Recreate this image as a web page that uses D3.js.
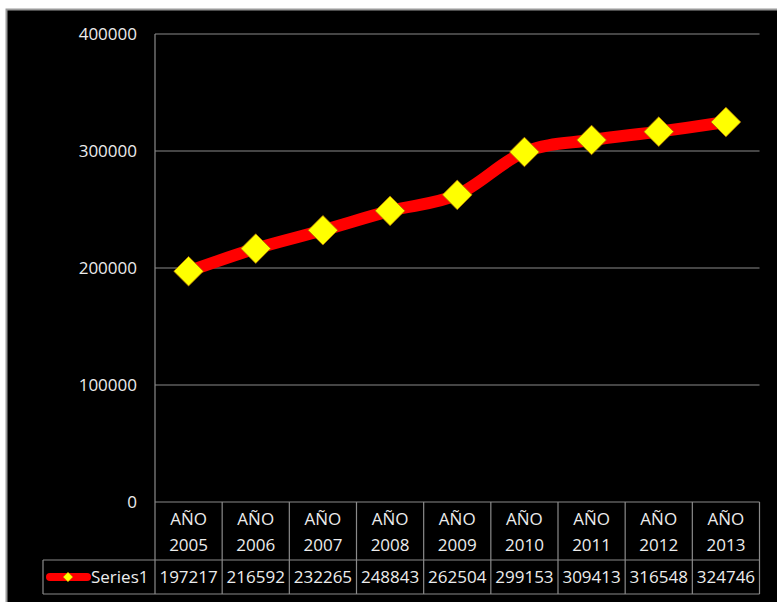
<!DOCTYPE html>
<html lang="es">
<head>
<meta charset="utf-8">
<title>Series1</title>
<script src="https://d3js.org/d3.v7.min.js"></script>
<style type="text/css">
  body { margin: 0; background: #fff; }
  text { font-family: "Open Sans", "Liberation Sans", sans-serif; fill: #ececec; }
</style>
</head>
<body>
<script type="text/javascript">

// data
var years = ["2005", "2006", "2007", "2008", "2009", "2010", "2011", "2012", "2013"];
var yearLabel = "AÑO";
var values = [197217, 216592, 232265, 248843, 262504, 299153, 309413, 316548, 324746];
var yTicks = [0, 100000, 200000, 300000, 400000];
var seriesName = "Series1";

var w = 777, h = 602;
var plotL = 155, plotR = 759.5, plotT = 34, plotB = 502;
var rowMid = 560, rowBot = 594, legLeft = 43;
var grid = "#8a8a8a";
var fs = 17;

var svg = d3.select("body").append("svg")
    .attr("width", w)
    .attr("height", h);

// black chart area with grey frame
svg.append("rect")
   .attr("x", 6.5).attr("y", 9.5)
   .attr("width", w).attr("height", h)
   .attr("fill", "#000")
   .attr("stroke", "#9a9a9a")
   .attr("stroke-width", 2);

var x = d3.scaleBand().domain(years).range([plotL, plotR]);
var y = d3.scaleLinear().domain([0, 400000]).range([plotB, plotT]);

// gridlines
svg.append("g")
   .selectAll("line")
   .data(yTicks.slice(1))
   .enter()
   .append("line")
   .attr("x1", plotL).attr("x2", plotR)
   .attr("y1", function(d){ return y(d); })
   .attr("y2", function(d){ return y(d); })
   .attr("stroke", grid).attr("stroke-width", 1);

// y axis
var yAxis = svg.append("g")
   .attr("transform", "translate(" + plotL + ",0)")
   .call(d3.axisLeft(y).tickValues(yTicks).tickSize(0).tickPadding(18).tickFormat(d3.format("d")));
yAxis.select(".domain").remove();
yAxis.selectAll("text")
   .attr("font-size", fs)
   .attr("font-family", "Open Sans, Liberation Sans, sans-serif")
   .style("fill", "#ececec");

// data table lines
var tbl = svg.append("g").attr("stroke", grid).attr("stroke-width", 1.2);
tbl.append("line").attr("x1", plotL).attr("x2", plotR).attr("y1", plotB).attr("y2", plotB);
tbl.append("line").attr("x1", legLeft).attr("x2", plotR).attr("y1", rowMid).attr("y2", rowMid);
tbl.append("line").attr("x1", legLeft).attr("x2", plotR).attr("y1", rowBot).attr("y2", rowBot);
tbl.append("line").attr("x1", legLeft).attr("x2", legLeft).attr("y1", rowMid).attr("y2", rowBot);
tbl.append("line").attr("x1", plotL).attr("x2", plotL).attr("y1", plotT).attr("y2", rowBot);
tbl.selectAll(".col")
   .data(years)
   .enter()
   .append("line")
   .attr("class", "col")
   .attr("x1", function(d){ return x(d) + x.bandwidth(); })
   .attr("x2", function(d){ return x(d) + x.bandwidth(); })
   .attr("y1", plotB).attr("y2", rowBot);

// category labels
var cats = svg.append("g").selectAll("g")
   .data(years)
   .enter()
   .append("g")
   .attr("transform", function(d){ return "translate(" + (x(d) + x.bandwidth() / 2) + ",0)"; });
cats.append("text")
   .attr("y", 519).attr("dy", "0.35em")
   .attr("text-anchor", "middle").attr("font-size", fs)
   .text(yearLabel);
cats.append("text")
   .attr("y", 545).attr("dy", "0.35em")
   .attr("text-anchor", "middle").attr("font-size", fs)
   .text(function(d){ return d; });

// value row
svg.append("g").selectAll("text")
   .data(values)
   .enter()
   .append("text")
   .attr("x", function(d, i){ return x(years[i]) + x.bandwidth() / 2; })
   .attr("y", 577).attr("dy", "0.35em")
   .attr("text-anchor", "middle").attr("font-size", fs)
   .text(function(d){ return d; });

// legend key
svg.append("line")
   .attr("x1", 50).attr("x2", 87).attr("y1", 577).attr("y2", 577)
   .attr("stroke", "#ff0000").attr("stroke-width", 8).attr("stroke-linecap", "round");
svg.append("path")
   .attr("d", d3.symbol().type(d3.symbolDiamond2).size(60))
   .attr("transform", "translate(68,577)")
   .attr("fill", "#ffff00").attr("stroke", "#c08000").attr("stroke-width", 0.6);
svg.append("text")
   .attr("x", 91).attr("y", 577).attr("dy", "0.35em")
   .attr("font-size", fs)
   .text(seriesName);

// series line (smoothed)
var line = d3.line()
   .x(function(d, i){ return x(years[i]) + x.bandwidth() / 2; })
   .y(function(d){ return y(d); })
   .curve(d3.curveCatmullRom.alpha(0));

svg.append("path")
   .datum(values)
   .attr("d", line)
   .attr("fill", "none")
   .attr("stroke", "#ff0000")
   .attr("stroke-width", 12)
   .attr("stroke-linejoin", "round");

// markers
svg.append("g").selectAll("path")
   .data(values)
   .enter()
   .append("path")
   .attr("d", d3.symbol().type(d3.symbolDiamond2).size(560))
   .attr("transform", function(d, i){
      return "translate(" + (x(years[i]) + x.bandwidth() / 2) + "," + y(d) + ")";
   })
   .attr("fill", "#ffff00")
   .attr("stroke", "#b07000")
   .attr("stroke-width", 0.8);

</script>
</body>
</html>
